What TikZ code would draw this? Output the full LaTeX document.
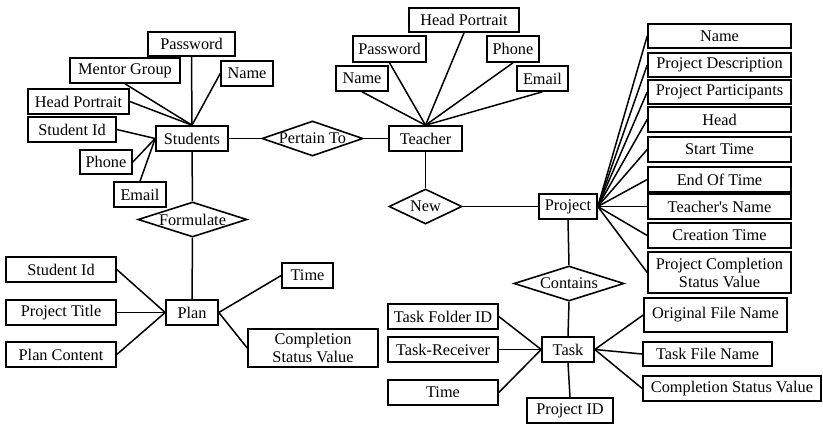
\documentclass[tikz,border=0pt]{standalone}
\usepackage{fontspec}
\setmainfont{Liberation Serif}
\usetikzlibrary{shapes.geometric}
\begin{document}
\begin{tikzpicture}[x=1pt,y=-1pt,
  every node/.style={font=\fontsize{16.3}{18}\selectfont},
  attr/.style={draw,line width=1.6pt,rectangle,inner sep=1pt,align=center},
  rel/.style={draw,line width=1.6pt,diamond,aspect=3,inner sep=0pt},
  link/.style={line width=1.5pt},
]
\useasboundingbox (0,0) rectangle (823,424);
\newcommand{\bx}[6]{\node[attr,minimum width=#4,minimum height=#5] (#1) at (#2,#3) {#6};}
\newcommand{\dm}[6]{\node[rel,minimum width=#4,minimum height=#5] (#1) at (#2,#3) {\makebox[0pt]{#6}};}

% Students entity and its attributes
\bx{stu}{192}{138.5}{72}{25}{Students}
\bx{spw}{191.5}{44}{87}{24}{Password}
\bx{smg}{125}{70.5}{110}{25}{Mentor Group}
\bx{snm}{247}{73.5}{52}{25}{Name}
\bx{shp}{78.5}{101.5}{101}{25}{Head Portrait}
\bx{sid}{72}{129.5}{88}{25}{Student Id}
\bx{sph}{106}{162}{52}{24}{Phone}
\bx{sem}{140}{194.5}{52}{25}{Email}

% Teacher entity and its attributes
\bx{tea}{425.5}{138.5}{73}{25}{Teacher}
\bx{thp}{464}{20}{110}{24}{Head Portrait}
\bx{tpw}{389.5}{49}{73}{26}{Password}
\bx{tph}{513}{49}{52}{26}{Phone}
\bx{tnm}{362}{78.5}{52}{25}{Name}
\bx{tem}{542.5}{78.5}{51}{25}{Email}

% Project entity and its attributes
\bx{prj}{568}{206.5}{58}{25}{Project}
\bx{pa1}{719.5}{36}{143}{24}{Name}
\bx{pa2}{719.5}{65}{143}{24}{Project Description}
\bx{pa3}{719.5}{92}{143}{24}{Project Participants}
\bx{pa4}{719.5}{119.5}{143}{25}{Head}
\bx{pa5}{719.5}{149.5}{143}{25}{Start Time}
\bx{pa6}{719.5}{179.5}{143}{25}{End Of Time}
\bx{pa7}{719.5}{206.5}{143}{25}{Teacher\textquotesingle s Name}
\bx{pa8}{719.5}{235.5}{143}{25}{Creation Time}
\bx{pa9}{719.5}{272.5}{143}{41}{Project Completion\\Status Value}

% Task entity and its attributes
\bx{tsk}{568}{349.5}{52}{25}{Task}
\bx{kfo}{443}{316.5}{110}{25}{Task Folder ID}
\bx{krc}{443}{349.5}{110}{25}{Task-Receiver}
\bx{ktm}{443}{392.5}{110}{25}{Time}
\bx{kpi}{570}{410.5}{86}{25}{Project ID}
\bx{kof}{715.5}{315}{143}{34}{Original File Name}
\bx{kfn}{707.5}{354}{129}{24}{Task File Name}
\bx{kcs}{732}{388.5}{178}{25}{Completion Status Value}

% Plan entity and its attributes
\bx{pln}{192}{312.5}{52}{25}{Plan}
\bx{lid}{61}{269.5}{110}{25}{Student Id}
\bx{lpt}{61}{312.5}{110}{25}{Project Title}
\bx{lpc}{61}{354.5}{110}{25}{Plan Content}
\bx{ltm}{307.5}{275.5}{51}{25}{Time}
\bx{lcs}{313}{348}{130}{38}{Completion\\Status Value}

% Relationships
\dm{frm}{192.5}{219.5}{109}{35}{Formulate}
\dm{per}{312.5}{138.5}{101}{35}{Pertain To}
\dm{new}{425.5}{206.5}{73}{35}{New}
\dm{con}{569}{283.5}{110}{35}{Contains}

% Connectors
\foreach \a in {spw.south,smg.south,shp.east,snm.west}
  \draw[link] (\a) -- (stu.north);
\foreach \a in {sid.east,sph.east,sem.north}
  \draw[link] (\a) -- (stu.west);
\foreach \a in {tnm.south,tpw.south,thp.south,tph.south,tem.south}
  \draw[link] (\a) -- (tea.north);
\foreach \a in {pa1,pa2,pa3,pa4,pa5,pa6,pa7,pa8,pa9}
  \draw[link] (prj.east) -- (\a.west);
\foreach \a in {kfo,krc,ktm}
  \draw[link] (\a.east) -- (tsk.west);
\foreach \a in {kof,kfn,kcs}
  \draw[link] (tsk.east) -- (\a.west);
\draw[link] (tsk.south) -- (kpi.north);
\foreach \a in {lid,lpt,lpc}
  \draw[link] (\a.east) -- (pln.west);
\foreach \a in {ltm,lcs}
  \draw[link] (pln.east) -- (\a.west);

\draw[link] (stu.east) -- (per.west);
\draw[link] (per.east) -- (tea.west);
\draw[link] (stu.south) -- (frm.north);
\draw[link] (frm.south) -- (pln.north);
\draw[link] (tea.south) -- (new.north);
\draw[link] (new.east) -- (prj.west);
\draw[link] (prj.south) -- (con.north);
\draw[link] (con.south) -- (tsk.north);
\end{tikzpicture}
\end{document}
